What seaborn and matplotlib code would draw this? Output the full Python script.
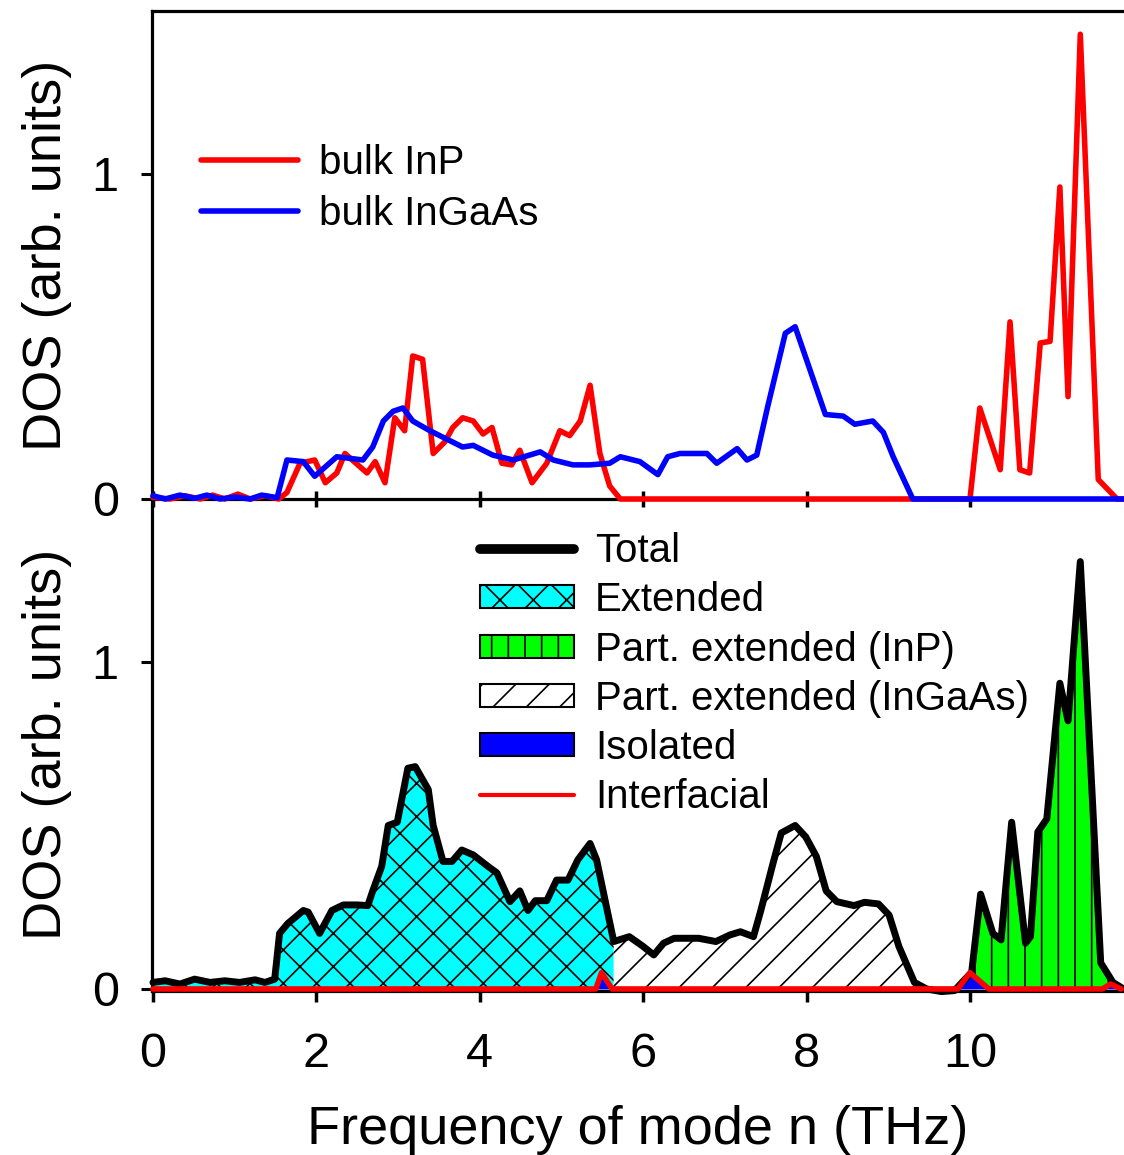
import matplotlib
matplotlib.use("Agg")
import numpy as np
import pandas as pd
import matplotlib.pyplot as plt
from matplotlib.lines import Line2D
from matplotlib.patches import Patch
import seaborn as sns

# ---------------- data ----------------
# Bulk InP phonon DOS (top panel)
inp_freq = [0.00, 0.21, 0.39, 0.58, 0.73, 0.88, 1.04, 1.19, 1.37, 1.54, 1.64, 1.80,
            1.98, 2.11, 2.25, 2.35, 2.62, 2.72, 2.84, 2.96, 3.08, 3.18, 3.30, 3.43,
            3.57, 3.67, 3.79, 3.92, 4.04, 4.15, 4.27, 4.39, 4.49, 4.64, 4.82, 4.98,
            5.10, 5.23, 5.35, 5.47, 5.59, 5.72, 10.00, 10.12, 10.37, 10.49, 10.61,
            10.73, 10.86, 10.98, 11.10, 11.20, 11.35, 11.57, 11.80, 11.90]
inp_dos = [0.005, 0.0, 0.01, 0.0, 0.012, 0.0, 0.015, 0.0, 0.01, 0.0, 0.02, 0.11,
           0.12, 0.05, 0.08, 0.14, 0.08, 0.115, 0.05, 0.25, 0.21, 0.44, 0.43, 0.14,
           0.175, 0.22, 0.25, 0.24, 0.20, 0.22, 0.11, 0.105, 0.15, 0.05, 0.11, 0.21,
           0.195, 0.24, 0.35, 0.14, 0.04, 0.0, 0.0, 0.28, 0.09, 0.545, 0.09,
           0.08, 0.48, 0.485, 0.96, 0.315, 1.43, 0.06, 0.0, 0.0]

# Bulk InGaAs phonon DOS (top panel)
ingaas_freq = [0.00, 0.15, 0.33, 0.51, 0.66, 0.82, 1.00, 1.19, 1.33, 1.52, 1.64, 1.84,
               1.98, 2.25, 2.57, 2.69, 2.82, 2.94, 3.06, 3.18, 3.39, 3.79, 3.92, 4.16,
               4.41, 4.74, 4.90, 5.14, 5.35, 5.59, 5.72, 5.96, 6.18, 6.30, 6.45, 6.78,
               6.90, 7.15, 7.27, 7.39, 7.52, 7.74, 7.86, 8.23, 8.45, 8.59, 8.81, 8.94,
               9.06, 9.30, 11.90]
ingaas_dos = [0.01, 0.0, 0.012, 0.002, 0.012, 0.0, 0.006, 0.0, 0.012, 0.004, 0.12, 0.115,
              0.07, 0.13, 0.12, 0.16, 0.24, 0.27, 0.28, 0.24, 0.21, 0.16, 0.165, 0.135,
              0.12, 0.145, 0.12, 0.105, 0.105, 0.11, 0.13, 0.115, 0.075, 0.13, 0.14, 0.14,
              0.11, 0.155, 0.12, 0.135, 0.28, 0.51, 0.53, 0.26, 0.255, 0.23, 0.24, 0.205,
              0.13, 0.0, 0.0]

# Interface-system total DOS (bottom panel)
total_freq = [0.00, 0.15, 0.33, 0.51, 0.70, 0.88, 1.06, 1.25, 1.37, 1.49, 1.55, 1.65,
              1.84, 1.90, 2.04, 2.19, 2.33, 2.50, 2.63, 2.69, 2.80, 2.88, 2.99, 3.12,
              3.21, 3.37, 3.43, 3.55, 3.66, 3.78, 3.92, 4.10, 4.21, 4.37, 4.49, 4.59,
              4.68, 4.82, 4.94, 5.08, 5.20, 5.35, 5.43, 5.56, 5.64, 5.83, 6.00, 6.13,
              6.25, 6.38, 6.68, 6.89, 7.06, 7.19, 7.35, 7.44, 7.59, 7.69, 7.86, 7.99,
              8.12, 8.24, 8.37, 8.58, 8.71, 8.88, 9.01, 9.13, 9.32, 9.47, 9.65, 9.81,
              9.94, 10.02, 10.13, 10.28, 10.38, 10.51, 10.68, 10.74, 10.83, 10.94,
              11.10, 11.20, 11.35, 11.60, 11.75, 11.88]
total_dos = [0.02, 0.025, 0.015, 0.03, 0.02, 0.025, 0.02, 0.028, 0.02, 0.03, 0.17, 0.20,
             0.24, 0.235, 0.17, 0.24, 0.257, 0.257, 0.255, 0.30, 0.375, 0.50, 0.51, 0.675,
             0.68, 0.61, 0.50, 0.39, 0.39, 0.425, 0.41, 0.375, 0.355, 0.267, 0.30, 0.24,
             0.27, 0.27, 0.333, 0.333, 0.395, 0.445, 0.395, 0.24, 0.145, 0.16, 0.13, 0.104,
             0.14, 0.155, 0.155, 0.145, 0.165, 0.175, 0.16, 0.24, 0.385, 0.477, 0.50, 0.465,
             0.405, 0.30, 0.267, 0.255, 0.265, 0.26, 0.226, 0.13, 0.02, 0.0, -0.008, -0.005,
             0.03, 0.05, 0.29, 0.17, 0.15, 0.51, 0.14, 0.16, 0.48, 0.52,
             0.935, 0.82, 1.307, 0.08, 0.02, 0.0]

# Frequency ranges of the mode classes (THz)
extended_max = 5.64
ingaas_part_max = 9.32
inp_part_min = 9.94

# Isolated modes
iso_freq = [0.00, 5.42, 5.49, 5.62, 8.80, 8.90, 9.85, 10.00, 10.23, 11.62, 11.72, 11.85]
iso_dos = [0.0, 0.0, 0.05, 0.0, 0.0, 0.008, 0.008, 0.05, 0.0, 0.0, 0.015, 0.0]

# Interfacial modes
intf_freq = [0.00, 5.42, 5.49, 5.62, 9.85, 10.00, 10.23, 11.62, 11.72, 11.85]
intf_dos = [0.0, 0.0, 0.05, 0.0, 0.0, 0.05, 0.0, 0.0, 0.015, 0.0]

x_ticks = [0, 2, 4, 6, 8, 10]
y_ticks = [0, 1]

# ---------------- style ----------------
sns.set_theme(style="ticks")
plt.rcParams["font.family"] = ["Liberation Sans", "DejaVu Sans"]
plt.rcParams["hatch.linewidth"] = 1.2
plt.rcParams["hatch.color"] = "black"
plt.rcParams["axes.edgecolor"] = "black"
plt.rcParams["xtick.color"] = "black"
plt.rcParams["ytick.color"] = "black"
plt.rcParams["text.color"] = "black"
plt.rcParams["axes.labelcolor"] = "black"

fig = plt.figure(figsize=(11.24, 11.55), dpi=100)
fig.patch.set_facecolor("white")
ax_bot = fig.add_axes([0.1352, 0.14234, 0.8648, 0.42606])
ax_top = fig.add_axes([0.1352, 0.56797, 0.8648, 0.42208])
# keep the bottom panel transparent so it never hides the top panel's baseline
ax_bot.patch.set_visible(False)
ax_top.patch.set_visible(False)
ax_top.set_zorder(2)
ax_bot.set_zorder(1)

XMIN, XMAX = -0.012, 11.885

# ---------------- top panel: bulk DOS ----------------
top_df = pd.concat([
    pd.DataFrame({"freq": inp_freq, "dos": inp_dos, "material": "bulk InP"}),
    pd.DataFrame({"freq": ingaas_freq, "dos": ingaas_dos, "material": "bulk InGaAs"}),
])
sns.lineplot(data=top_df[top_df.material == "bulk InP"], x="freq", y="dos",
             color="#ff0000", lw=4, ax=ax_top, clip_on=False, zorder=3,
             label="bulk InP", estimator=None)
sns.lineplot(data=top_df[top_df.material == "bulk InGaAs"], x="freq", y="dos",
             color="#0000ff", lw=4, ax=ax_top, clip_on=False, zorder=3,
             label="bulk InGaAs", estimator=None)

ax_top.set_xlim(XMIN, XMAX)
ax_top.set_ylim(0, 1.5)
ax_top.set_xticks(x_ticks)
ax_top.set_xticklabels([])
ax_top.set_yticks(y_ticks)
ax_top.set_xlabel("")
ax_top.set_ylabel("DOS (arb. units)", fontsize=39, labelpad=14)
ax_top.tick_params(axis="x", direction="inout", length=11, width=2.5)
ax_top.tick_params(axis="y", direction="out", length=8, width=2.2, labelsize=35, pad=16)
ax_top.spines["right"].set_visible(False)
for s in ("left", "top", "bottom"):
    ax_top.spines[s].set_linewidth(2.3)

ax_top.legend(loc="upper left", bbox_to_anchor=(0.050, 0.728), frameon=False,
              fontsize=29, handlelength=2.42, handletextpad=0.52,
              labelspacing=0.33, borderpad=0, borderaxespad=0)

# ---------------- bottom panel: mode classes ----------------
f = np.asarray(total_freq)
d = np.asarray(total_dos)
ax_bot.fill_between(f, 0, d, where=f <= extended_max, facecolor="#00ffff",
                    edgecolor="black", hatch="x", linewidth=0)
ax_bot.fill_between(f, 0, d, where=(f >= extended_max) & (f <= ingaas_part_max),
                    facecolor="white", edgecolor="black", hatch="/", linewidth=0)
ax_bot.fill_between(f, 0, d, where=f >= inp_part_min, facecolor="#00ff00",
                    edgecolor="black", hatch="|", linewidth=0)
ax_bot.fill_between(iso_freq, 0, iso_dos, facecolor="#0000ff", linewidth=0)

sns.lineplot(x=total_freq, y=total_dos, color="black", lw=5, ax=ax_bot,
             clip_on=False, zorder=3, estimator=None, sort=False,
             solid_joinstyle="round", solid_capstyle="round")
sns.lineplot(x=intf_freq, y=intf_dos, color="#ff0000", lw=4, ax=ax_bot,
             clip_on=False, zorder=4, estimator=None, sort=False)

ax_bot.set_xlim(XMIN, XMAX)
ax_bot.set_ylim(-0.005, 1.5)
ax_bot.set_xticks(x_ticks)
ax_bot.set_yticks(y_ticks)
ax_bot.set_xlabel("Frequency of mode n (THz)", fontsize=39, labelpad=20)
ax_bot.set_ylabel("DOS (arb. units)", fontsize=39, labelpad=14)
ax_bot.tick_params(axis="x", direction="out", length=8, width=2.5, labelsize=35, pad=22)
ax_bot.tick_params(axis="y", direction="out", length=8, width=2.2, labelsize=35, pad=16)
ax_bot.spines["right"].set_visible(False)
ax_bot.spines["top"].set_visible(False)
for s in ("left", "bottom"):
    ax_bot.spines[s].set_linewidth(2.3)

handles = [
    Line2D([0], [0], color="black", lw=7, solid_capstyle="round"),
    Patch(facecolor="#00ffff", edgecolor="black", hatch="x", linewidth=1.5),
    Patch(facecolor="#00ff00", edgecolor="black", hatch="|", linewidth=1.5),
    Patch(facecolor="white", edgecolor="black", hatch="/", linewidth=1.5),
    Patch(facecolor="#0000ff", edgecolor="black", linewidth=1.5),
    Line2D([0], [0], color="#ff0000", lw=3),
]
labels = ["Total", "Extended", "Part. extended (InP)", "Part. extended (InGaAs)",
          "Isolated", "Interfacial"]
ax_bot.legend(handles, labels, loc="upper left", bbox_to_anchor=(0.337, 0.932),
              frameon=False, fontsize=29, handlelength=2.35, handleheight=0.5,
              handletextpad=0.52, labelspacing=0.28, borderpad=0, borderaxespad=0)

fig.savefig("out.png", dpi=100, facecolor="white")
